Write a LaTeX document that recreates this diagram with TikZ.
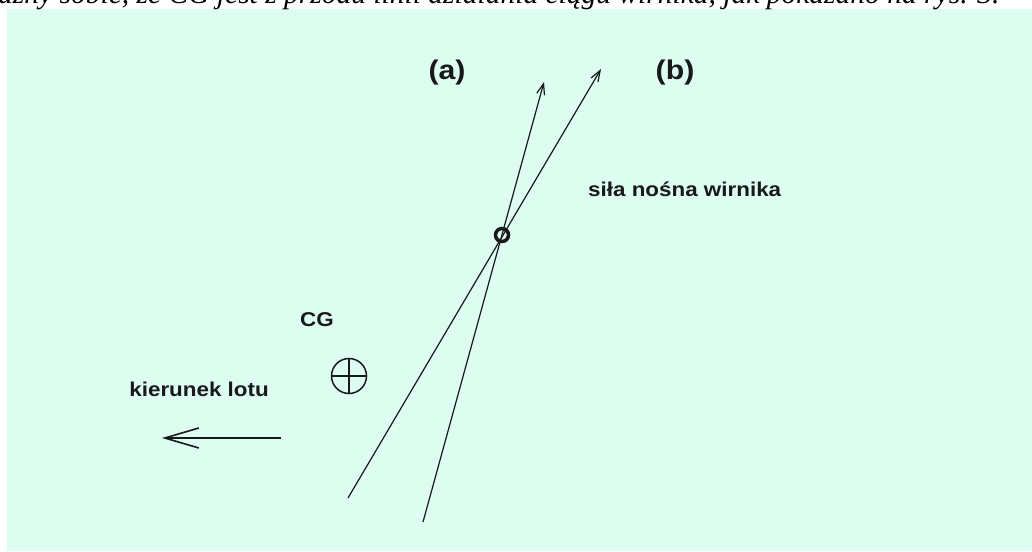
\documentclass[tikz,border=0pt]{standalone}
\usepackage{fontspec}
\usepackage{tikz}
\usetikzlibrary{arrows.meta}
\newfontfamily\lblfont[FakeStretch=1.12]{Liberation Sans}
\newfontfamily\txtfont{Liberation Serif}
\definecolor{mintbg}{RGB}{221,253,240}
\definecolor{ink}{RGB}{25,25,25}

\begin{document}
\begin{tikzpicture}[x=1pt,y=-1pt,
  lbl/.style={font=\lblfont\bfseries\fontsize{20}{24}\selectfont,text=ink,inner sep=0pt,anchor=base west},
  tag/.style={font=\lblfont\bfseries\fontsize{27}{32}\selectfont,text=ink,inner sep=0pt},
  thrust/.style={ink,line width=1.2pt,-{Straight Barb[length=11pt,width=8pt]}},
  flight/.style={ink,line width=1.6pt,-{Straight Barb[length=34pt,width=20pt,line width=1.6pt]}}]
\useasboundingbox (0,0) rectangle (1032,551);
\clip (0,0) rectangle (1032,551);
\fill[mintbg] (7,9) rectangle (1032,551);
\node[anchor=base west,inner sep=0pt,font=\txtfont\itshape\fontsize{29.5}{34}\selectfont] (caption) at (-2,4)
  {ażny sobie, że CG jest z przodu linii działania ciągu wirnika, jak pokazano na rys. 3.};
% lift lines
\coordinate (foot-a) at (423,522);
\coordinate (tip-a) at (544,82);
\coordinate (foot-b) at (348,498);
\coordinate (tip-b) at (601,69);
\foreach \s in {a,b}{\draw[thrust] (foot-\s) -- (tip-\s);}
\node[circle,draw=ink,line width=3.5pt,minimum size=13pt,inner sep=0pt] (hub) at (502,235) {};
\node[tag] (tag-a) at (447,73) {(a)};
\node[tag] (tag-b) at (675,73) {(b)};
\node[lbl] (lift) at (588,196) {siła nośna wirnika};
% centre of gravity
\node[circle,draw=ink,line width=1.5pt,minimum size=35pt,inner sep=0pt] (cg) at (349,376) {};
\draw[ink,line width=1.5pt] (cg.north) -- (cg.south) (cg.west) -- (cg.east);
\node[lbl] (cg-lbl) at (300,326) {CG};
\node[lbl,anchor=base east] (dir) at (269,396) {kierunek lotu};
\coordinate (flight-tail) at (281,438);
\coordinate (flight-tip) at (162,438);
\draw[flight] (flight-tail) -- (flight-tip);
\end{tikzpicture}
\end{document}
